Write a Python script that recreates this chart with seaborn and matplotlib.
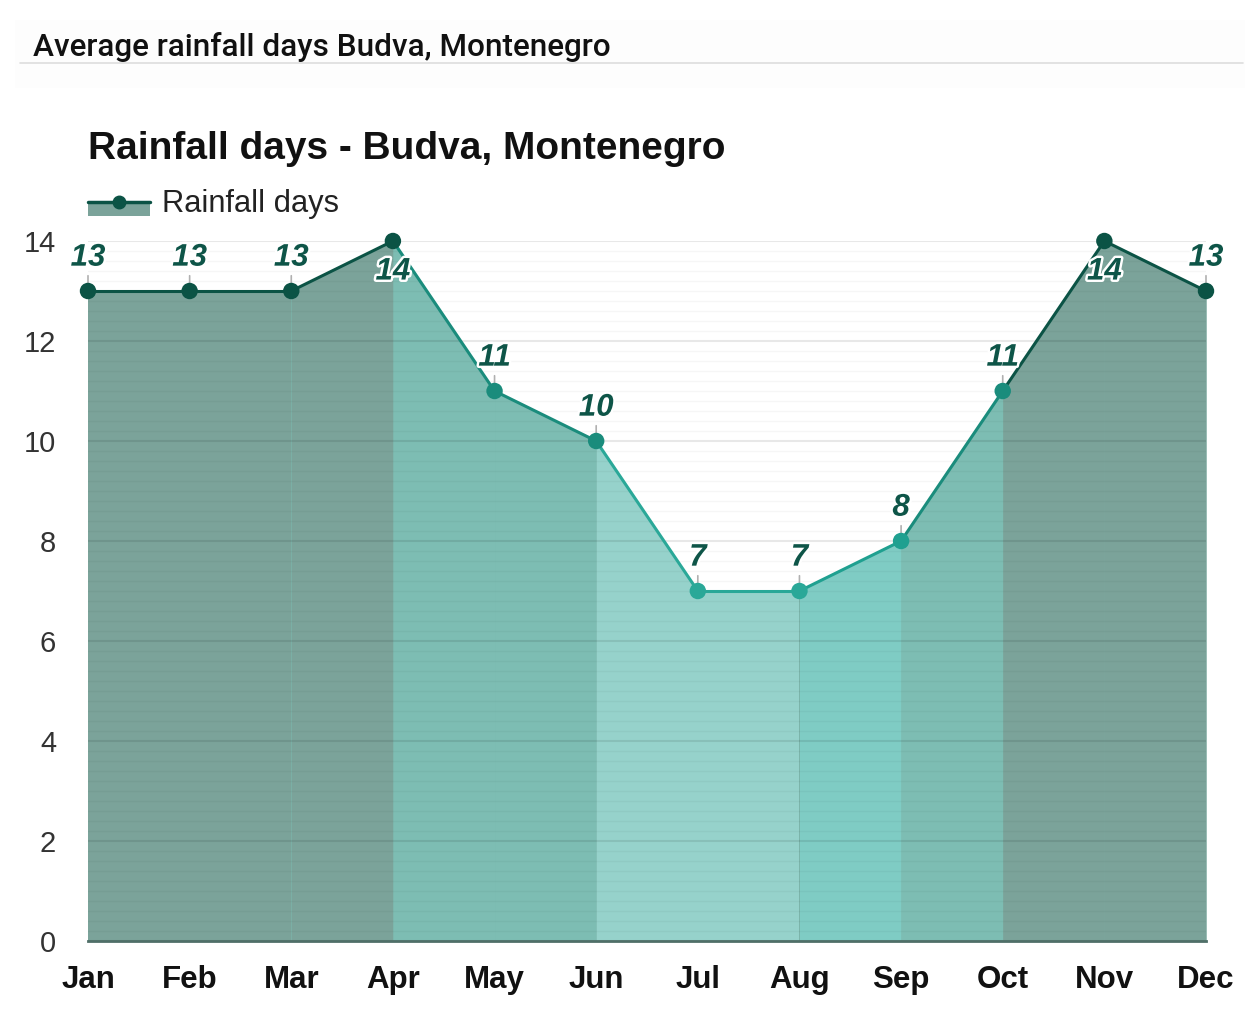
import numpy as np
import pandas as pd
import matplotlib
matplotlib.use("Agg")
import matplotlib.pyplot as plt
import matplotlib.patheffects as pe
from matplotlib.patches import Rectangle
from matplotlib.lines import Line2D
import seaborn as sns

# ---- data ----
months = ["Jan", "Feb", "Mar", "Apr", "May", "Jun", "Jul", "Aug", "Sep", "Oct", "Nov", "Dec"]
rain_days = [13, 13, 13, 14, 11, 10, 7, 7, 8, 11, 14, 13]
y_ticks = [0, 2, 4, 6, 8, 10, 12, 14]
header_text = "Average rainfall days Budva, Montenegro"
title_text = "Rainfall days - Budva, Montenegro"
series_name = "Rainfall days"

df = pd.DataFrame({"month": months, "x": np.arange(len(months)), "days": rain_days})

sns.set_theme(style="white")
plt.rcParams["font.family"] = ["Liberation Sans", "DejaVu Sans"]

W, H = 1260, 1028
fig = plt.figure(figsize=(W / 100, H / 100), dpi=100)
fig.patch.set_facecolor("white")

def fx(px):
    return px / W

def fy(py):
    return 1 - py / H

# colour by value
def fill_col(v):
    if v >= 13:
        return "#7BA39A"
    if v >= 10:
        return "#7DBDB3"
    if v >= 8:
        return "#7FCCC4"
    return "#96D2CB"

def line_col(v):
    if v >= 13:
        return "#0B5345"
    if v >= 10:
        return "#1A8C7C"
    if v >= 8:
        return "#1FA090"
    return "#2AA898"

# header box
fig.patches.append(Rectangle((fx(15), fy(88)), fx(1245) - fx(15), fy(20) - fy(88),
                             transform=fig.transFigure, facecolor="#fdfdfd", edgecolor="none", zorder=0))
fig.text(fx(33), fy(56), header_text, fontsize=22.7, family=["Roboto", "DejaVu Sans"],
         fontweight="medium", color="#111111", va="baseline", ha="left")
fig.add_artist(Line2D([fx(20), fx(1243)], [fy(63), fy(63)], transform=fig.transFigure,
                      color="#dddddd", lw=1.2))

# title
fig.text(fx(88), fy(159), title_text, fontsize=28, fontweight="bold", color="#111111",
         va="baseline", ha="left")

# legend
fig.patches.append(Rectangle((fx(88), fy(216)), fx(150) - fx(88), fy(201) - fy(216),
                             transform=fig.transFigure, facecolor="#7BA39A", edgecolor="none"))
fig.add_artist(Line2D([fx(88), fx(150)], [fy(202), fy(202)], transform=fig.transFigure,
                      color="#0B5345", lw=2.5))
fig.add_artist(Line2D([fx(119)], [fy(202)], transform=fig.transFigure, marker="o",
                      markersize=9, color="#0B5345", lw=0))
fig.text(fx(162), fy(212), series_name, fontsize=22.2, color="#222222", va="baseline", ha="left")

# axes
ax = fig.add_axes([fx(88), fy(941), fx(1206) - fx(88), fy(241) - fy(941)])
ax.set_facecolor("white")

n = len(df)
# base fill under everything (hides seams between segments)
ax.fill_between(df["x"], 0, df["days"], color="#7BB3A9", lw=0, zorder=0.9)
for i in range(n - 1):
    xs = df["x"].iloc[i:i + 2].to_numpy()
    ys = df["days"].iloc[i:i + 2].to_numpy()
    v_right = ys[1]
    ax.fill_between(xs, 0, ys, color=fill_col(v_right), lw=0, zorder=1)
    seg = df.iloc[i:i + 2]
    sns.lineplot(data=seg, x="x", y="days", ax=ax, color=line_col(v_right), lw=2.2,
                 zorder=4, legend=False, sort=False)

pt_colors = [line_col(v) for v in rain_days]
sns.scatterplot(data=df, x="x", y="days", ax=ax, hue="month", palette=dict(zip(months, pt_colors)),
                s=140, edgecolor="none", zorder=5, legend=False)
for c in ax.collections:
    c.set_clip_on(False)

# data labels
stroke = [pe.withStroke(linewidth=3.5, foreground="white")]
for xi, v in zip(df["x"], df["days"]):
    if v >= 14:
        ax.annotate(str(v), (xi, v), xytext=(0, -22), textcoords="offset points",
                    ha="center", va="center", fontsize=22.5, fontweight="bold", fontstyle="italic",
                    color="#0E5548", path_effects=stroke, zorder=6, annotation_clip=False)
    else:
        ax.annotate("", (xi, v), xytext=(0, 11), textcoords="offset points",
                    arrowprops=dict(arrowstyle="-", color="#b0b0b0", lw=1.2, shrinkA=0, shrinkB=0),
                    zorder=3)
        ax.annotate(str(v), (xi, v), xytext=(0, 24), textcoords="offset points",
                    ha="center", va="center", fontsize=22.5, fontweight="bold", fontstyle="italic",
                    color="#0E5548", path_effects=stroke, zorder=6, annotation_clip=False)

ax.set_xlim(0, n - 1)
ax.set_ylim(0, 14)
ax.set_xticks(df["x"])
ax.set_xticklabels(months, fontsize=22.5, fontweight="bold", color="#111111")
ax.set_yticks(y_ticks)
ax.set_yticklabels([str(t) for t in y_ticks], fontsize=21, color="#333333")
ax.set_yticks(np.arange(0, 14.01, 0.2), minor=True)
ax.tick_params(axis="x", length=0, pad=17)
ax.tick_params(axis="y", length=0, pad=23, which="both")
ax.set_xlabel("")
ax.set_ylabel("")
ax.set_axisbelow(False)
ax.grid(axis="y", which="major", color="black", alpha=0.09, lw=1.5, zorder=2)
ax.grid(axis="y", which="minor", color="black", alpha=0.035, lw=1.0, zorder=2)
for sp in ["top", "right", "left"]:
    ax.spines[sp].set_visible(False)
ax.spines["bottom"].set_color("#4f6f68")
ax.spines["bottom"].set_linewidth(2)
ax.spines["bottom"].set_zorder(3)

fig.savefig("out.png", dpi=100, facecolor="white")
